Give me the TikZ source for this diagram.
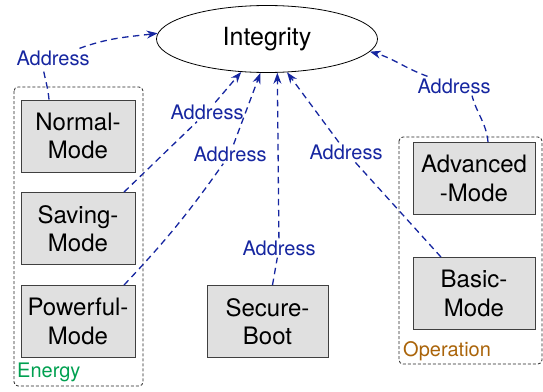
\documentclass[tikz,border=0pt]{standalone}
\usepackage{fontspec}
\setmainfont{TeX Gyre Heros}
\usepackage{xcolor}
\definecolor{addrblue}{RGB}{22,38,160}
\definecolor{energygreen}{RGB}{0,160,80}
\definecolor{opbrown}{RGB}{170,100,10}
\definecolor{boxgray}{RGB}{224,224,224}
\usetikzlibrary{arrows.meta}
\usetikzlibrary{shapes.geometric}
\usetikzlibrary{calc}

\begin{document}
\begin{tikzpicture}[x=1pt,y=-1pt,
		mode/.style={draw=black!75, fill=boxgray, line width=0.9pt, align=center, minimum width=114pt, minimum height=72pt, inner sep=0pt, font=\fontsize{24}{28.5}\selectfont},
		group/.style={draw=black!85, dash pattern=on 3pt off 2pt, rounded corners=4pt, line width=0.8pt},
		addr/.style={text=addrblue, inner sep=2pt, font=\fontsize{20}{24}\selectfont},
		link/.style={draw=addrblue, line width=1.3pt, dash pattern=on 6.5pt off 4.5pt},
		tip/.style={link, -{Stealth[length=11pt,width=8pt]}}]
				\useasboundingbox (0,0) rectangle (543,391);
				
				%groups
				\draw[group] (14,87) rectangle (143,386);
				\draw[group] (399,137) rectangle (542,364);
				\node[anchor=base west, inner sep=0pt, text=energygreen, font=\fontsize{20}{24}\selectfont] (energy) at (17,377) {Energy};
				\node[anchor=base west, inner sep=0pt, text=opbrown, font=\fontsize{20}{24}\selectfont] (operation) at (403,356) {Operation};
				
				%goal
				\node[draw, ellipse, line width=0.8pt, minimum width=221pt, minimum height=67pt, font=\fontsize{25}{30}\selectfont] (integ) at (267,39) {Integrity};
				
				%modes
				\node[mode] (normal) at (78,136) {Normal-\\Mode};
				\node[mode] (saving) at (78,228.5) {Saving-\\Mode};
				\node[mode] (powerful) at (78,321.5) {Powerful-\\Mode};
				\node[mode, minimum width=121pt] (secure) at (267.5,321.5) {Secure-\\Boot};
				\node[mode, minimum width=122pt] (advanced) at (474,178.5) {Advanced\\-Mode};
				\node[mode, minimum width=122pt] (basic) at (474,293.5) {Basic-\\Mode};
				
				%labels
				\node[addr] (a1) at (53,58) {Address};
				\node[addr] (a2) at (207,112) {Address};
				\node[addr] (a3) at (230,154) {Address};
				\node[addr] (a4) at (346,152) {Address};
				\node[addr] (a5) at (279,248) {Address};
				\node[addr] (a6) at (454,86) {Address};
				
				%draw links
				\draw[link] ([xshift=-29pt]normal.north) to[out=95,in=-80] ([xshift=-10pt]a1.south);
				\draw[tip] (a1) to[out=20,in=187] (integ.177);
				\draw[link] ([xshift=46pt]saving.north) -- (a2);
				\draw[tip] (a2) -- (integ.-128.5);
				\draw[link] ([xshift=46pt]powerful.north) to[bend right=4] (a3);
				\draw[tip] (a3) -- (integ.-101.6);
				\draw[link] ([xshift=-33pt]basic.north) -- (a4);
				\draw[tip] (a4) -- (integ.-59.5);
				\draw[link] ([xshift=5pt]secure.north) -- (a5);
				\draw[tip] (a5) -- (integ.-73);
				\draw[link] ([xshift=14pt]advanced.north) to[out=95,in=-75] ([xshift=18pt]a6.south);
				\draw[tip] (a6) to[out=160,in=-16] (integ.-7.7);
			\end{tikzpicture}
\end{document}
